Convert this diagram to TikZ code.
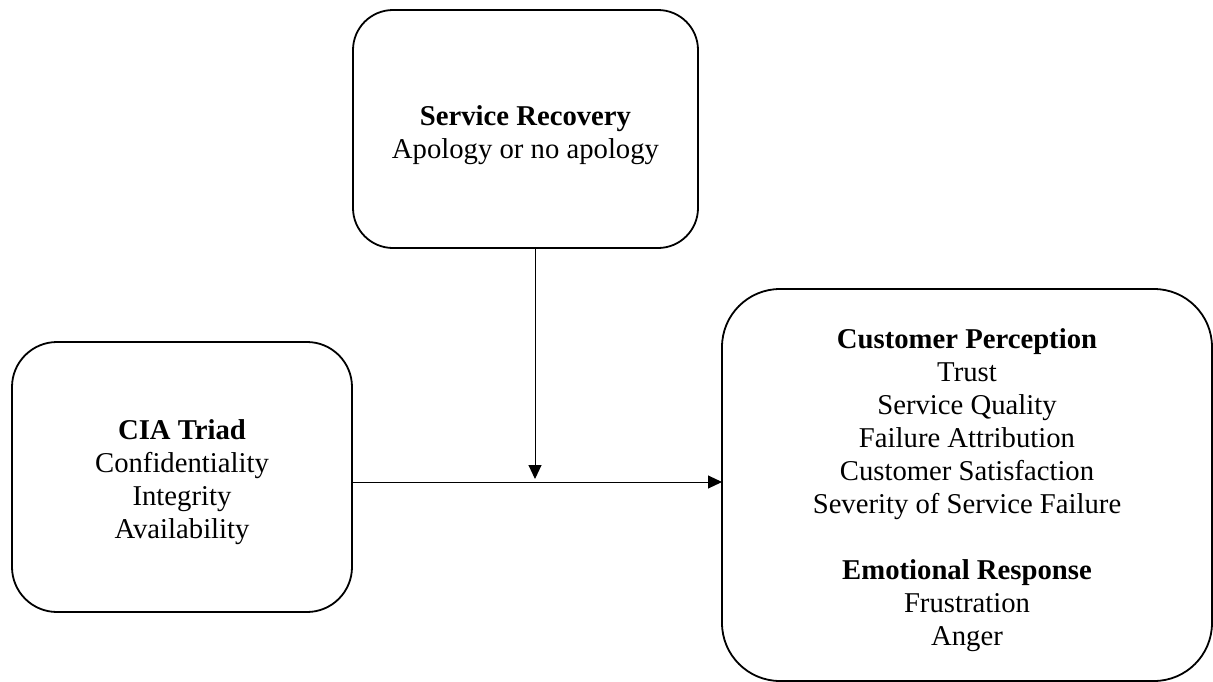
\documentclass[tikz,border=0pt]{standalone}
\usepackage{fontspec}
\setmainfont{Liberation Serif}
\usetikzlibrary{arrows.meta}
\begin{document}
\begin{tikzpicture}[x=1pt,y=-1pt,
  box/.style={draw, line width=1.8pt, inner sep=0pt, outer sep=0pt},
  txt/.style={align=center, inner sep=0pt, font=\fontsize{28.7}{33}\selectfont},
  arr/.style={line width=1pt, -{Triangle[length=14pt,width=13pt]}}]
\useasboundingbox (0,0) rectangle (1213,681);
\node[box, rounded corners=40pt, minimum width=345pt, minimum height=238pt]
  (sr) at (525.5,129) {};
\node[txt] (srt) at ([yshift=-6pt]sr.center) {\textbf{Service Recovery}\\Apology or no apology};
\node[box, rounded corners=45pt, minimum width=340pt, minimum height=270pt]
  (cia) at (182,477) {};
\node[txt] (ciat) at ([yshift=-5pt]cia.center) {\textbf{CIA Triad}\\Confidentiality\\Integrity\\Availability};
\node[box, rounded corners=58pt, minimum width=490pt, minimum height=392pt]
  (cp) at (967,485) {};
\node[txt] (cpt) at ([yshift=-5pt]cp.center) {\textbf{Customer Perception}\\Trust\\Service Quality\\Failure Attribution\\Customer Satisfaction\\Severity of Service Failure\\[33pt]\textbf{Emotional Response}\\Frustration\\Anger};
\coordinate (j) at (535,482);
\coordinate (jt) at (535,479);
\draw[arr] (cia.east |- j) -- (cp.west |- j);
\draw[arr] (sr.south -| j) -- (jt);
\end{tikzpicture}
\end{document}
